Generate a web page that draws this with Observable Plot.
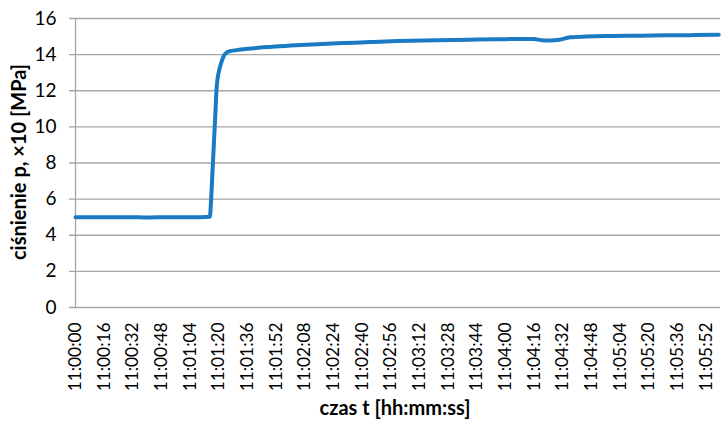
<!DOCTYPE html>
<html>
<head>
<meta charset="utf-8">
<script src="https://cdn.jsdelivr.net/npm/d3@7"></script>
<script src="https://cdn.jsdelivr.net/npm/@observablehq/plot@0.6"></script>
<style>
  html, body { margin: 0; padding: 0; background: #fff; }
  #chart svg { display: block; }
</style>
</head>
<body>
<div id="chart"></div>
<script>
// seconds since 11:00:00
const tSec = [0, 10, 20, 30, 40, 50, 60, 70, 75, 75.6, 76.2, 76.7, 77.2, 77.7, 78.2, 78.6, 79.2, 80.1, 81.5, 82.9, 84.2, 85.6, 90, 96, 107, 120, 135, 150, 165, 180, 202, 220, 235, 250, 256, 260, 265, 270, 276, 285, 300, 316, 330, 345, 359];
// pressure p x10 [MPa]
const pressure = [5.0, 5.0, 4.99, 5.0, 4.98, 5.0, 5.0, 5.0, 5.02, 5.8, 7.0, 8.0, 9.0, 10.0, 11.0, 11.9, 12.6, 13.1, 13.6, 13.95, 14.1, 14.18, 14.25, 14.32, 14.42, 14.5, 14.58, 14.64, 14.7, 14.75, 14.8, 14.83, 14.85, 14.87, 14.86, 14.8, 14.78, 14.82, 14.96, 15.0, 15.03, 15.05, 15.07, 15.08, 15.1];
const tickLabels = ["11:00:00","11:00:16","11:00:32","11:00:48","11:01:04","11:01:20","11:01:36","11:01:52","11:02:08","11:02:24","11:02:40","11:02:56","11:03:12","11:03:28","11:03:44","11:04:00","11:04:16","11:04:32","11:04:48","11:05:04","11:05:20","11:05:36","11:05:52"];
const yTicks = [0, 2, 4, 6, 8, 10, 12, 14, 16];

const data = tSec.map((t, i) => ({t, p: pressure[i]}));
const tickSecs = tickLabels.map(s => { const [h, m, x] = s.split(":").map(Number); return (h - 11) * 3600 + m * 60 + x; });
const labelOf = new Map(tickSecs.map((s, i) => [s, tickLabels[i]]));

const grid = "#a6a6a6";
const chart = Plot.plot({
  width: 726,
  height: 428,
  marginLeft: 75,
  marginRight: 6,
  marginTop: 18,
  marginBottom: 121,
  style: {fontFamily: "Lato, 'Open Sans', sans-serif", fontSize: "16px", color: "#000", background: "#fff"},
  x: {domain: [0, 360], ticks: tickSecs, tickFormat: d => labelOf.get(d), tickRotate: -90, tickSize: 0, tickPadding: 15, label: null},
  y: {domain: [0, 16], ticks: yTicks, tickSize: 0, tickPadding: 20, label: null},
  marks: [
    Plot.ruleY(yTicks, {x1: -3.4, x2: 360, stroke: grid, strokeWidth: 1.3, clip: false}),
    Plot.ruleX([0], {y1: 0, y2: 16, stroke: grid, strokeWidth: 1.3}),
    Plot.axisY({ticks: yTicks, tickSize: 0, tickPadding: 19, fontSize: 19}),
    Plot.axisX({ticks: tickSecs, tickFormat: d => labelOf.get(d), tickRotate: -90, tickSize: 0, tickPadding: 15, fontSize: 17.3}),
    Plot.line(data, {x: "t", y: "p", stroke: "#1b7ac4", strokeWidth: 4, strokeLinejoin: "round", strokeLinecap: "round", curve: "monotone-x"})
  ]
});
const svg = d3.select(chart);
svg.append("text")
  .attr("transform", "translate(21,162) rotate(-90)")
  .attr("text-anchor", "middle").attr("dominant-baseline", "middle")
  .style("font-weight", "bold").style("font-size", "20px")
  .text("ciśnienie p, ×10 [MPa]");
svg.append("text")
  .attr("x", 395).attr("y", 410)
  .attr("text-anchor", "middle").attr("dominant-baseline", "middle")
  .style("font-weight", "bold").style("font-size", "20px")
  .text("czas t [hh:mm:ss]");
document.getElementById("chart").append(chart);
</script>
</body>
</html>
